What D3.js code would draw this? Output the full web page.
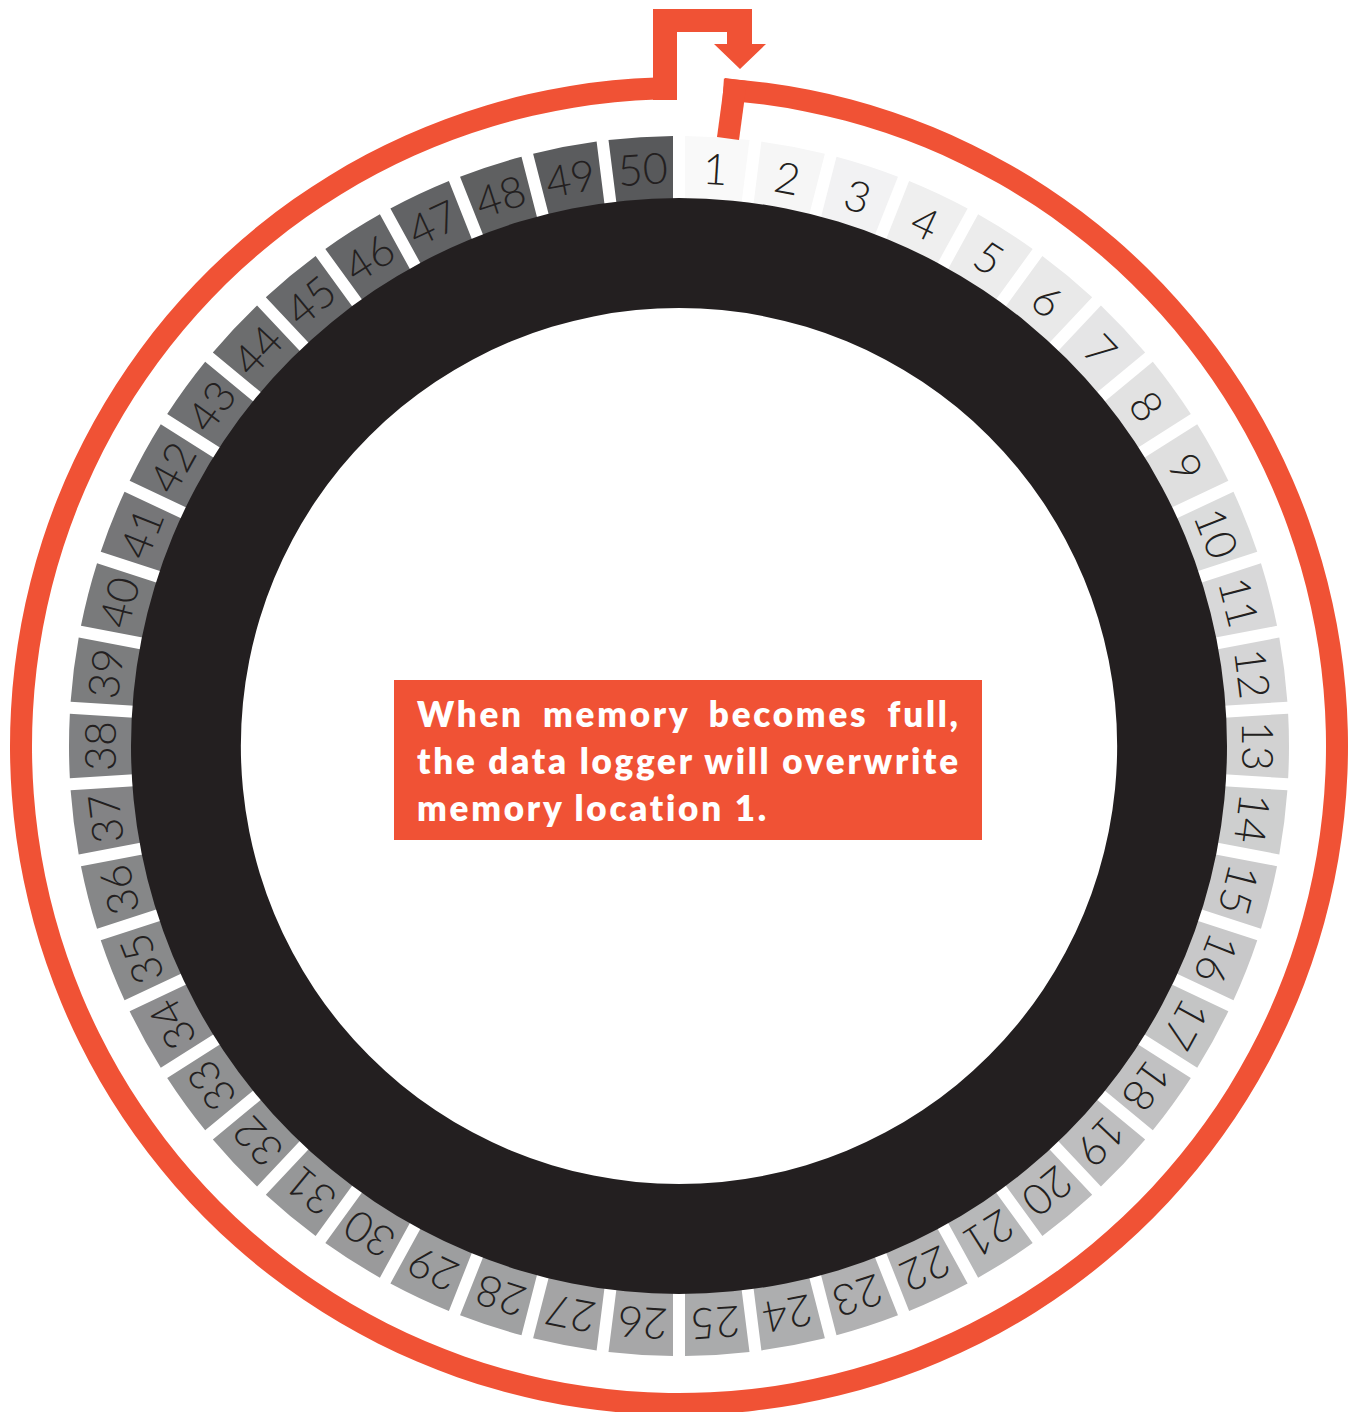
<!DOCTYPE html>
<html><head><meta charset="utf-8">
<script src="https://cdn.jsdelivr.net/npm/d3@7"></script>
<style>body{margin:0;background:#fff}svg{display:block}</style>
</head><body>
<svg id="c" width="1356" height="1412"></svg>
<script>
// ---- data ----
const locations = [1,2,3,4,5,6,7,8,9,10,11,12,13,14,15,16,17,18,19,20,21,22,23,24,25,
                   26,27,28,29,30,31,32,33,34,35,36,37,38,39,40,41,42,43,44,45,46,47,48,49,50];
const captionLines = ["When memory becomes full,", "the data logger will overwrite", "memory location 1."];
const justifiedLines = [true, true, false];

// ---- layout / style ----
const W = 1356, H = 1412, cx = 679, cy = 746;
const RED = "#f05235", INK = "#231f20";
const svg = d3.select("#c");
const g = svg.append("g").attr("transform", `translate(${cx},${cy})`);

const ang = d3.scaleBand().domain(locations).range([0, 2 * Math.PI]);
const shade = d3.scaleLinear().domain([locations[0], locations[locations.length - 1]])
  .range(["#f9f9f9", "#58595b"]).interpolate(d3.interpolateRgb);

const segArc = d3.arc()
  .innerRadius(530).outerRadius(610)
  .padRadius(580).padAngle(12 / 580)
  .startAngle(d => ang(d)).endAngle(d => ang(d) + ang.bandwidth());

g.selectAll("path.seg").data(locations).join("path")
  .attr("class", "seg").attr("d", segArc).attr("fill", d => shade(d));

// black ring
g.append("path")
  .attr("d", d3.arc()({innerRadius: 438, outerRadius: 548, startAngle: 0, endAngle: 2 * Math.PI}))
  .attr("fill", INK);

// labels
g.selectAll("text.lab").data(locations).join("text")
  .attr("class", "lab")
  .attr("transform", d => `rotate(${(ang(d) + ang.bandwidth() / 2) * 180 / Math.PI}) translate(0,-578)`)
  .attr("text-anchor", "middle").attr("dy", "0.36em")
  .attr("font-family", "Lato, 'Open Sans', sans-serif").attr("font-weight", 300)
  .attr("font-size", 43).attr("fill", INK)
  .text(d => d);

// red ring
const deg = Math.PI / 180;
g.append("path")
  .attr("d", d3.arc()({innerRadius: 647, outerRadius: 669, startAngle: 3.85 * deg, endAngle: 358 * deg}))
  .attr("fill", RED);

// connector from ring down to location 1
g.append("path")
  .attr("d", d3.line()([[38, -609], [46, -668], [68, -665], [60, -606]]) + "Z")
  .attr("fill", RED);

// overwrite arrow
g.append("path")
  .attr("d", d3.line()([[-26, -646], [-26, -737], [73, -737], [73, -702], [87, -702], [61, -677],
                        [35, -702], [48, -702], [48, -714], [-2, -714], [-2, -646]]) + "Z")
  .attr("fill", RED);

// caption box
svg.append("rect").attr("x", 394).attr("y", 680).attr("width", 588).attr("height", 160).attr("fill", RED);
const tx = 417, tRight = 958;
const texts = captionLines.map((line, i) => svg.append("text")
    .attr("x", tx).attr("y", 727 + i * 47)
    .attr("font-family", "Lato, 'Open Sans', sans-serif").attr("font-weight", 800)
    .attr("font-size", 35).attr("fill", "#fff")
    .text(line));
// letter spacing chosen so the second line fills the width naturally
const l2 = texts[1].node().getComputedTextLength();
const ls = (tRight - tx - l2) / (captionLines[1].length - 1);
texts.forEach((t, i) => {
  t.attr("letter-spacing", ls);
  if (justifiedLines[i]) {
    const w = t.node().getComputedTextLength() - ls;
    const gaps = captionLines[i].split(" ").length - 1;
    const extra = (tRight - tx - w) / gaps;
    if (extra > 0.5) t.attr("word-spacing", extra);
  }
});
</script>
</body></html>
